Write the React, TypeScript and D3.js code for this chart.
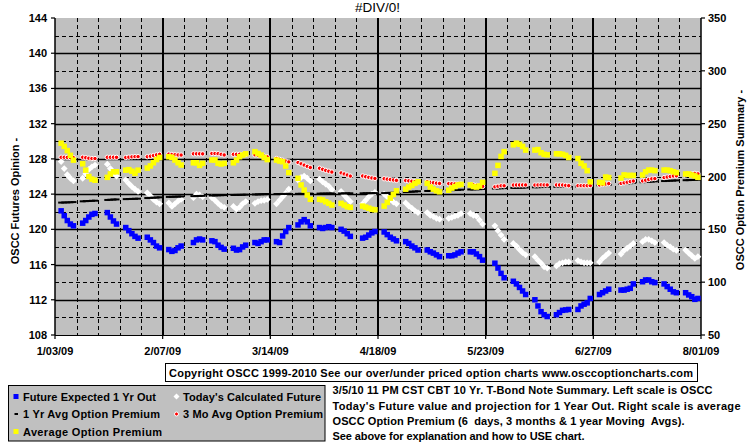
import React from 'react';
import * as d3 from 'd3';

// ---------- DATA ----------
const HOLIDAYS = ['2009-01-19', '2009-02-16', '2009-04-10', '2009-05-25', '2009-07-03'];
const FIRST_DAY = '2009-01-05';
const DOMAIN_START = '2009-01-03';
const DOMAIN_END = '2009-08-01';

const X_TICK_DATES = ['2009-01-03', '2009-02-07', '2009-03-14', '2009-04-18', '2009-05-23', '2009-06-27', '2009-08-01'];
const X_TICK_LABELS = ['1/03/09', '2/07/09', '3/14/09', '4/18/09', '5/23/09', '6/27/09', '8/01/09'];
const LEFT_TICKS = [108, 112, 116, 120, 124, 128, 132, 136, 140, 144];
const LEFT_MINOR = [110, 114, 118, 122, 126, 130, 134, 138, 142];
const RIGHT_TICKS = [50, 100, 150, 200, 250, 300, 350];

// Future Expected 1 Yr Out (left scale)
const futureExpected = [
  122.1, 121.55, 121.0, 120.6, 120.4,
  120.7, 121.0, 121.4, 121.7, 121.8,
  121.9, 121.4, 120.95, 120.6,
  120.2, 119.85, 119.5, 119.2, 119.0,
  119.1, 118.8, 118.5, 118.1, 117.9,
  117.7, 117.5, 117.6, 117.9, 118.1,
  118.5, 118.8, 118.9, 118.8,
  118.7, 118.6, 118.2, 117.95, 117.75,
  117.85, 117.65, 117.7, 118.0, 118.2,
  118.5, 118.4, 118.6, 118.8, 118.8,
  118.6, 118.5, 119.25, 119.75, 120.2,
  120.5, 120.85, 121.1, 120.85, 120.4,
  120.2, 120.1, 120.2, 120.3, 120.2,
  120.0, 119.8, 119.5, 119.2,
  119.0, 119.1, 119.35, 119.6, 119.75,
  119.7, 119.4, 119.1, 118.9, 118.7,
  118.6, 118.4, 118.1, 117.9, 117.65,
  117.65, 117.45, 117.3, 117.1, 116.9,
  117.0, 117.0, 117.1, 117.3, 117.45,
  117.45, 117.45, 117.2, 116.9, 116.5,
  116.15, 115.6, 115.0, 114.5,
  114.1, 113.8, 113.4, 113.0, 112.6,
  112.0, 111.3, 110.65, 110.3, 110.1,
  110.3, 110.55, 110.8, 110.85, 110.9,
  110.9, 111.3, 111.5, 111.65, 112.15,
  112.6, 112.8, 113.0, 113.2,
  113.1, 113.1, 113.2, 113.3, 113.8,
  114.05, 114.25, 114.25, 114.05, 113.95,
  113.8, 113.5, 113.2, 112.9, 112.8,
  112.8, 112.55, 112.35, 112.05, 112.15,
];

// Today's Calculated Future (left scale)
const todaysFuture = [
  127.7, 126.9, 126.2, 125.8, 125.5,
  125.8, 126.3, 126.8, 127.1, 127.3,
  127.4, 126.9, 126.4, 126.05,
  125.6, 125.2, 124.85, 124.55, 124.3,
  124.15, 123.8, 123.4, 123.1, 122.9,
  123.0, 122.6, 122.9, 123.2, 123.4,
  123.6, 124.0, 123.9, 123.7,
  123.6, 123.3, 122.95, 122.65, 122.5,
  122.6, 122.3, 122.5, 122.9, 123.15,
  122.95, 123.15, 123.25, 123.3, 123.4,
  122.9, 123.3, 123.7, 124.1, 124.55,
  125.6, 125.9, 126.05, 125.8, 125.5,
  125.7, 125.4, 125.15, 124.9, 124.5,
  124.3, 123.9, 123.5, 123.15,
  122.9, 123.3, 123.7, 124.0, 124.2,
  124.0, 123.7, 123.4, 123.1, 122.9,
  123.0, 122.65, 122.4, 122.1, 121.9,
  121.9, 121.6, 121.45, 121.25, 121.15,
  121.25, 121.35, 121.5, 121.6, 121.8,
  121.8, 121.6, 121.5, 121.05, 120.6,
  120.4, 119.85, 119.35, 118.85,
  118.4, 118.1, 117.7, 117.35, 117.1,
  116.9, 116.5, 116.15, 115.75, 115.6,
  115.85, 116.1, 116.2, 116.3, 116.3,
  116.45, 116.3, 116.2, 116.2, 116.2,
  116.3, 116.7, 117.0, 117.3,
  117.2, 117.6, 117.85, 118.1, 118.4,
  118.6, 118.85, 118.85, 118.7, 118.5,
  118.5, 118.2, 118.0, 117.75, 117.6,
  117.65, 117.3, 117.0, 116.7, 116.9,
];

// 1 Yr Avg Option Premium (right scale)
const oneYrAvg = [
  175.3, 175.4, 175.5, 175.6, 175.8,
  176.5, 176.7, 176.8, 177.0, 177.1,
  177.8, 178.0, 178.2, 178.3,
  178.6, 178.7, 178.8, 178.9, 179.0,
  179.6, 179.8, 179.9, 180.1, 180.3,
  180.7, 180.8, 180.9, 181.0, 181.1,
  181.4, 181.5, 181.6, 181.7,
  182.0, 182.1, 182.2, 182.3, 182.4,
  182.5, 182.6, 182.6, 182.7, 182.8,
  183.0, 183.1, 183.2, 183.3, 183.4,
  183.4, 183.4, 183.5, 183.5, 183.6,
  183.6, 183.6, 183.7, 183.7, 183.8,
  183.8, 183.8, 183.9, 183.9, 184.0,
  184.0, 184.0, 184.1, 184.1,
  184.1, 184.1, 184.2, 184.2, 184.3,
  184.3, 184.4, 184.5, 184.6, 184.8,
  185.3, 185.5, 185.6, 185.8, 186.0,
  186.3, 186.5, 186.6, 186.8, 186.9,
  187.0, 187.1, 187.2, 187.3, 187.5,
  187.7, 187.8, 187.9, 188.0, 188.2,
  188.6, 188.8, 188.9, 189.0,
  189.2, 189.3, 189.4, 189.5, 189.6,
  189.8, 189.9, 190.0, 190.1, 190.2,
  190.2, 190.3, 190.3, 190.4, 190.5,
  190.6, 190.7, 190.8, 190.9, 191.0,
  191.6, 191.8, 192.0, 192.2,
  193.0, 193.3, 193.5, 193.7, 194.0,
  194.6, 194.8, 195.0, 195.2, 195.4,
  195.7, 195.9, 196.0, 196.1, 196.3,
  196.5, 196.6, 196.7, 196.8, 196.9,
];

// 3 Mo Avg Option Premium (right scale)
const threeMoAvg = [
  218.2, 218.2, 218.1, 217.9, 217.8,
  218.2, 217.8, 217.3, 217.0, 217.0,
  218.2, 218.2, 218.2, 218.1,
  218.0, 218.3, 218.6, 218.8, 218.8,
  218.7, 219.2, 219.8, 220.5, 221.0,
  221.2, 220.9, 220.6, 220.4, 220.3,
  221.5, 221.5, 221.5, 221.4,
  221.8, 221.8, 221.6, 221.0, 220.4,
  221.0, 221.0, 221.0, 220.9, 220.9,
  220.5, 220.2, 219.8, 219.2, 218.6,
  217.0, 216.2, 215.4, 214.6, 213.8,
  213.2, 212.0, 210.8, 209.6, 208.5,
  207.8, 206.8, 205.8, 205.0, 204.2,
  203.4, 202.4, 201.4, 200.4,
  200.5, 199.8, 199.2, 198.6, 198.2,
  197.9, 197.5, 197.1, 196.7, 196.3,
  196.2, 195.9, 195.6, 195.3, 195.0,
  195.0, 194.5, 194.1, 193.7, 193.4,
  193.3, 193.2, 193.0, 192.9, 192.8,
  192.4, 192.0, 191.6, 191.2, 190.6,
  190.2, 190.8, 191.2, 191.2,
  191.9, 192.0, 192.0, 192.0, 192.0,
  191.9, 192.0, 192.1, 192.0, 192.0,
  192.0, 192.0, 191.9, 191.6, 191.3,
  191.3, 191.3, 191.3, 191.3, 191.4,
  192.0, 192.5, 192.9, 193.3,
  193.5, 194.0, 194.6, 195.2, 195.7,
  195.8, 196.5, 197.2, 197.8, 198.0,
  199.0, 199.5, 200.0, 200.5, 200.6,
  201.5, 202.0, 202.5, 203.0, 202.5,
];

// Average Option Premium (right scale)
const avgPremium = [
  231.5, 228.5, 224.5, 220.0, 215.5,
  212.0, 206.0, 200.0, 197.5, 196.5,
  199.2, 202.4, 204.5, 204.5,
  206.0, 206.5, 205.0, 203.0, 206.0,
  208.0, 210.0, 213.0, 216.0, 218.0,
  218.7, 218.1, 215.6, 213.0, 210.9,
  213.0, 213.0, 210.5, 212.5,
  215.6, 215.6, 212.5, 211.8, 212.5,
  213.0, 215.5, 218.7, 220.3, 221.5,
  223.5, 221.8, 220.3, 218.0, 216.0,
  215.6, 214.7, 214.0, 209.9, 203.7,
  198.3, 192.0, 187.2, 182.5, 178.4,
  178.4, 177.8, 176.1, 174.6, 173.0,
  174.6, 173.0, 171.4, 170.8,
  172.0, 171.0, 170.0, 169.0, 168.5,
  172.0, 175.5, 179.5, 183.0, 186.5,
  188.0, 190.0, 191.5, 193.5, 195.0,
  193.5, 190.0, 188.0, 186.5, 185.5,
  187.0, 189.0, 190.5, 192.0, 192.5,
  192.0, 190.5, 190.0, 191.0, 194.5,
  203.0, 210.5, 219.0, 223.5,
  230.0, 231.5, 230.5, 228.5, 225.0,
  225.0, 225.5, 222.5, 221.0, 220.5,
  221.5, 221.5, 221.0, 220.0, 218.0,
  217.0, 212.5, 210.0, 205.5, 195.0,
  194.5, 194.0, 199.5, 199.0,
  198.5, 201.5, 201.0, 201.0, 201.0,
  201.4, 204.5, 206.1, 206.1, 205.5,
  206.1, 206.1, 205.5, 204.5, 203.6,
  202.4, 202.4, 201.4, 200.5, 199.2,
];

const LEGEND_LEFT = ['Future Expected 1 Yr Out', '1 Yr Avg Option Premium', 'Average Option Premium'];
const LEGEND_RIGHT = ["Today's Calculated Future", '3 Mo Avg Option Premium'];
const TITLE = '#DIV/0!';
const LEFT_TITLE = 'OSCC Futures Opinion -';
const RIGHT_TITLE = 'OSCC Option Premium Summary -';
const COPYRIGHT = 'Copyright OSCC 1999-2010 See our over/under priced option charts www.osccoptioncharts.com';
const NOTE_LINES = [
  '3/5/10 11 PM CST CBT 10 Yr. T-Bond Note Summary. Left scale is OSCC',
  "Today's Future value and projection for 1 Year Out. Right scale is average",
  'OSCC Option Premium (6  days, 3 months & 1 year Moving  Avgs).',
  'See above for explanation and how to USE chart.',
];

// ---------- CHART ----------
const W = 755;
const H = 446;
const X0 = 55, X1 = 701, Y0 = 18, Y1 = 335;
const FONT = '"Liberation Sans", Arial, sans-serif';

const parse = d3.timeParse('%Y-%m-%d');
const fmt = d3.timeFormat('%Y-%m-%d');

const NOTE_Y = [394, 409.5, 425, 440];
const NOTE_LEN = [380, 408, 352, 252];
const LEG_L_LEN = [133, 137, 139];
const LEG_R_LEN = [138, 140];

export default function App() {
  const start = parse(DOMAIN_START)!;
  const end = parse(DOMAIN_END)!;
  const x = d3.scaleTime().domain([start, end]).range([X0, X1]);
  const yL = d3.scaleLinear().domain([108, 144]).range([Y1, Y0]);
  const yR = d3.scaleLinear().domain([50, 350]).range([Y1, Y0]);

  const days = d3.timeDay
    .range(parse(FIRST_DAY)!, end)
    .filter((d) => d.getDay() > 0 && d.getDay() < 6 && !HOLIDAYS.includes(fmt(d)));

  const majorDates = X_TICK_DATES.map((s) => parse(s)!);
  const majorSet = new Set(X_TICK_DATES);
  const minorDates = d3.timeSaturday.range(start, end).filter((d) => !majorSet.has(fmt(d)));

  const blue = days.map((d, i) => ({ x: x(d), y: yL(futureExpected[i]) }));
  const white = days.map((d, i) => ({ x: x(d), y: yL(todaysFuture[i]) }));
  const black = days.map((d, i) => ({ x: x(d), y: yR(oneYrAvg[i]) }));
  const red = days.map((d, i) => ({ x: x(d), y: yR(threeMoAvg[i]) }));
  const yellow = days.map((d, i) => ({ x: x(d), y: yR(avgPremium[i]) }));

  const sq = 5.5;
  const diamond = (cx: number, cy: number, r: number) =>
    `M${cx},${cy - r}L${cx + r},${cy}L${cx},${cy + r}L${cx - r},${cy}Z`;

  return (
    <svg
      width={W}
      height={H}
      style={{ position: 'absolute', left: 0, top: 0, background: '#fff' }}
      fontFamily={FONT}
    >
      <rect x={0} y={0} width={W} height={H} fill="#fff" />
      <rect x={X0} y={Y0} width={X1 - X0} height={Y1 - Y0} fill="#C0C0C0" />

      {LEFT_MINOR.map((v) => (
        <line key={'hm' + v} x1={X0} x2={X1} y1={Math.round(yL(v)) + 0.5} y2={Math.round(yL(v)) + 0.5} stroke="#000" strokeDasharray="4,3" />
      ))}
      {minorDates.map((d, i) => (
        <line key={'vm' + i} x1={Math.round(x(d)) + 0.5} x2={Math.round(x(d)) + 0.5} y1={Y0} y2={Y1} stroke="#000" strokeDasharray="4,3" />
      ))}
      {LEFT_TICKS.slice(1, -1).map((v) => (
        <line key={'hM' + v} x1={X0} x2={X1} y1={Math.round(yL(v)) + 0.5} y2={Math.round(yL(v)) + 0.5} stroke="#000" strokeWidth={1.3} />
      ))}
      {majorDates.slice(1, -1).map((d, i) => (
        <line key={'vM' + i} x1={Math.round(x(d))} x2={Math.round(x(d))} y1={Y0} y2={Y1} stroke="#000" strokeWidth={2} />
      ))}

      <line x1={X0} x2={X0} y1={Y0} y2={Y1} stroke="#000" strokeWidth={1.5} />
      <line x1={X1} x2={X1} y1={Y0} y2={Y1} stroke="#000" strokeWidth={1.5} />
      <line x1={X0} x2={X1} y1={Y1 + 0.5} y2={Y1 + 0.5} stroke="#000" strokeWidth={1.2} />

      {LEFT_TICKS.map((v) => (
        <g key={'lt' + v}>
          <line x1={X0 - 4} x2={X0} y1={yL(v)} y2={yL(v)} stroke="#000" strokeWidth={1.2} />
          <text x={47} y={yL(v) + 4} textAnchor="end" fontSize={11} fontWeight="bold">{v}</text>
        </g>
      ))}
      {RIGHT_TICKS.map((v) => (
        <g key={'rt' + v}>
          <line x1={X1} x2={X1 + 4} y1={yR(v)} y2={yR(v)} stroke="#000" strokeWidth={1.2} />
          <text x={708} y={yR(v) + 4} textAnchor="start" fontSize={11} fontWeight="bold">{v}</text>
        </g>
      ))}
      {majorDates.map((d, i) => (
        <g key={'xt' + i}>
          <line x1={x(d)} x2={x(d)} y1={Y1} y2={Y1 + 4} stroke="#000" strokeWidth={1.2} />
          <text x={x(d)} y={355} textAnchor="middle" fontSize={11} fontWeight="bold">{X_TICK_LABELS[i]}</text>
        </g>
      ))}

      {blue.map((p, i) => (
        <rect key={'b' + i} x={p.x - sq / 2} y={p.y - sq / 2} width={sq} height={sq} fill="#0000FF" />
      ))}
      {white.map((p, i) => (
        <path key={'w' + i} d={diamond(p.x, p.y, 3.4)} fill="#FFFFFF" />
      ))}
      {black.map((p, i) => (
        <rect key={'k' + i} x={p.x - 3} y={p.y - 1} width={6} height={2} fill="#000" />
      ))}
      {red.map((p, i) => (
        <circle key={'r' + i} cx={p.x} cy={p.y} r={2.2} fill="#FF0000" stroke="#FFFFFF" strokeWidth={1} />
      ))}
      {yellow.map((p, i) => (
        <rect key={'y' + i} x={p.x - sq / 2} y={p.y - sq / 2} width={sq} height={sq} fill="#FFFF00" />
      ))}

      <text x={377.5} y={12} textAnchor="middle" fontSize={13.5}>{TITLE}</text>

      <text transform="translate(19,201) rotate(-90)" textAnchor="middle" fontSize={11} fontWeight="bold">{LEFT_TITLE}</text>
      <text transform="translate(744,180) rotate(-90)" textAnchor="middle" fontSize={11} fontWeight="bold">{RIGHT_TITLE}</text>

      <rect x={165.5} y={363.5} width={532} height={18} fill="#fff" stroke="#000" strokeWidth={1} />
      <text x={169} y={377} fontSize={11} fontWeight="bold" textLength={524} lengthAdjust="spacing">{COPYRIGHT}</text>

      <rect x={8.5} y={385.5} width={316.5} height={55.5} fill="#C0C0C0" stroke="#000" strokeWidth={1} />
      <rect x={13.5} y={394} width={5} height={5} fill="#0000FF" />
      <rect x={14.5} y={413} width={3.5} height={2} fill="#000" />
      <rect x={13.5} y={429} width={5} height={5} fill="#FFFF00" />
      {LEGEND_LEFT.map((t, i) => (
        <text key={'ll' + i} x={23} y={400.7 + i * 17.5} fontSize={11} fontWeight="bold" textLength={LEG_L_LEN[i]} lengthAdjust="spacing">{t}</text>
      ))}
      <path d={diamond(176.5, 396.5, 3)} fill="#fff" />
      <circle cx={176.5} cy={414} r={2} fill="#FF0000" stroke="#fff" strokeWidth={1} />
      {LEGEND_RIGHT.map((t, i) => (
        <text key={'lr' + i} x={183} y={400.7 + i * 17.5} fontSize={11} fontWeight="bold" textLength={LEG_R_LEN[i]} lengthAdjust="spacing">{t}</text>
      ))}

      {NOTE_LINES.map((t, i) => (
        <text key={'n' + i} x={332.5} y={NOTE_Y[i]} fontSize={11} fontWeight="bold" xmlSpace="preserve" textLength={NOTE_LEN[i]} lengthAdjust="spacing">{t}</text>
      ))}
    </svg>
  );
}
